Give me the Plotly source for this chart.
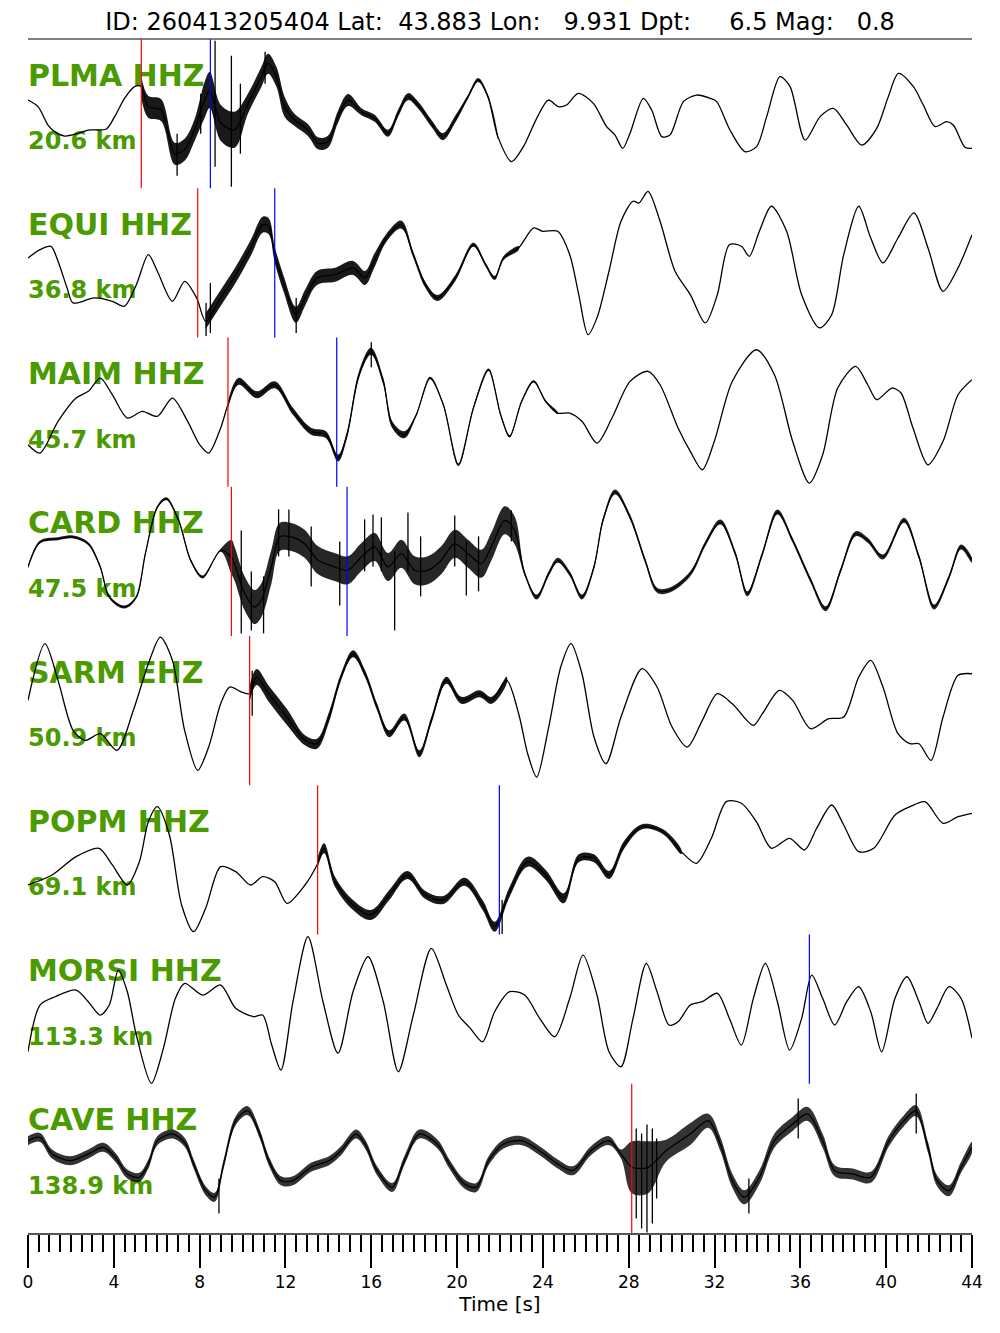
import numpy as np
import plotly.graph_objects as go
from plotly.subplots import make_subplots

# ---------------- data ----------------
TITLE = "ID: 260413205404 Lat:  43.883 Lon:   9.931 Dpt:     6.5 Mag:   0.8"
stations = ["PLMA HHZ", "EQUI HHZ", "MAIM HHZ", "CARD HHZ", "SARM EHZ", "POPM HHZ", "MORSI HHZ", "CAVE HHZ"]
distances = ["20.6 km", "36.8 km", "45.7 km", "47.5 km", "50.9 km", "69.1 km", "113.3 km", "138.9 km"]
p_picks = [5.28, 7.91, 9.32, 9.48, 10.33, 13.50, None, 28.14]
s_picks = [8.50, 11.50, 14.39, 14.87, None, 21.97, 36.42, None]
tick_vals = [0, 4, 8, 12, 16, 20, 24, 28, 32, 36, 40, 44]

# waveform key points: (time [s], amplitude)
PLMA = [(0, 13.6), (0.47, 7), (0.93, -11.4), (1.24, -18), (1.71, -22.4), (2.33, -19.7), (2.8, -16.4), (3.65, -15.4),
        (4.04, -3), (4.5, 15.3), (4.97, 27), (5.28, 27), (5.6, 7), (6.2, 3.6), (6.84, -40), (7.3, -36), (7.77, -16),
        (8.23, 13.6), (8.47, 23.6), (9.0, -9.7), (9.63, -16), (10.25, 10), (10.88, 37), (11.19, 50), (11.58, 37),
        (11.96, 7), (12.43, -6.4), (13.05, -16.4), (13.52, -29.7), (13.98, -28), (14.45, -3), (14.92, 13.6), (15.54, 2),
        (16.16, -4.7), (16.78, -19.7), (17.25, 0.3), (17.71, 17), (18.18, 8.6), (18.8, -9.7), (19.34, -23), (19.89, -6.4),
        (20.51, 17), (20.98, 33.6), (21.44, 17), (21.9, -23), (22.54, -48), (23.09, -33), (23.71, -4.7), (24.25, 13.6),
        (24.72, 7), (25.1, 8.6), (25.65, 20.3), (26.35, 10.3), (26.97, -13), (27.36, -21.4), (27.72, -34.7), (28.06, -19.7),
        (28.68, 15.3), (29.07, 3.6), (29.54, -23), (29.92, -21.4), (30.55, 12), (31.17, 18.6), (31.79, 15.3), (32.1, 12),
        (32.72, -16.4), (33.42, -38), (33.96, -33), (34.43, -3), (35.05, 37), (35.52, 27), (36.22, -26.4), (36.92, -3),
        (37.54, 5.3), (38.16, -11.4), (38.86, -31.4), (39.56, -14.7), (40.1, 17), (40.57, 40.3), (41.27, 27), (41.73, 8.6),
        (42.28, -13), (42.82, -8), (43.13, -11.4), (43.67, -33.7), (44.0, -34.7)]
EQUI = [(0, 4.9), (0.56, 13.2), (1.07, 16.6), (1.4, 1.6), (1.82, -25), (2.1, -40), (3.09, -35), (3.93, -38.4),
        (4.49, -43.4), (5.05, -21.8), (5.61, 8.2), (6.03, -8.4), (6.73, -38.4), (7.3, -18.4), (7.86, -35), (8.28, -58.4),
        (8.98, -35), (9.68, -11.8), (10.38, 14.9), (10.94, 38.2), (11.22, 36.6), (11.5, 8.2), (11.93, -21.8), (12.49, -51.8),
        (12.91, -35), (13.47, -15), (14.31, -11.8), (15.15, -5), (15.71, -15), (16.13, 1.6), (16.7, 24.9), (17.4, 38.2),
        (17.96, 8.2), (18.52, -21.8), (19.08, -35), (19.92, -15), (20.76, 18.2), (21.33, -1.8), (21.75, -15), (22.17, 4.9),
        (22.87, 14.9), (23.57, 34.9), (23.99, 31.6), (24.69, 31.6), (25.25, 8.2), (25.67, -31.8), (26.1, -71.8),
        (26.52, -55), (27.08, -8.4), (27.64, 41.6), (28.2, 61.6), (28.48, 59.9), (28.9, 71.6), (29.46, 41.6), (30.16, -8.4),
        (30.87, -31.8), (31.57, -60), (32.13, -31.8), (32.69, 18.2), (33.25, 16.6), (33.62, 6.6), (34.09, 31.6),
        (34.65, 56.6), (35.36, 31.6), (36.06, -31.8), (36.9, -65), (37.46, -51.8), (38.02, 8.2), (38.72, 56.6),
        (39.28, 24.9), (39.85, 0), (40.55, 24.9), (41.3, 49.9), (41.95, 14.9), (42.65, -28.4), (43.35, -5), (44.0, 28.2)]
MAIM = [(0, -32.6), (0.56, -40.9), (1.4, -9.2), (2.24, 14.1), (2.81, 20.8), (3.37, 34.1), (3.93, 17.4), (4.63, -5.9),
        (5.33, 0.8), (6.03, -4.2), (6.73, 14.1), (7.44, -9.2), (8.0, -32.6), (8.42, -40.9), (8.98, -15.9), (9.32, 7.4),
        (9.82, 30.8), (10.66, 17.4), (11.5, 27.4), (12.35, 0.8), (13.19, -19.2), (13.89, -22.6), (14.45, -45.9),
        (14.87, -22.6), (15.43, 37.4), (15.99, 60.8), (16.56, 30.8), (16.98, -12.6), (17.54, -22.6), (18.1, -2.6),
        (18.74, 34.1), (19.36, 7.4), (20.06, -52.6), (20.76, 4.1), (21.47, 42.4), (22.03, -2.6), (22.45, -24.2),
        (23.01, 10.8), (23.57, 30.8), (24.13, 10.8), (24.69, -0.9), (25.25, -0.9), (25.82, -9.2), (26.52, -30.9),
        (27.22, -5.9), (28.06, 30.8), (28.9, 40.8), (29.46, 27.4), (30.3, -15.9), (30.87, -39.2), (31.43, -57.6),
        (31.99, -29.2), (32.83, 30.8), (33.95, 62.4), (34.79, 37.4), (35.64, -29.2), (36.42, -70.9), (37.04, -42.6),
        (37.74, 24.1), (38.58, 45.8), (39.14, 27.4), (39.56, 12.4), (40.27, 24.1), (40.69, 19.1), (41.25, -15.9),
        (41.95, -52.6), (42.65, -29.2), (43.35, 17.4), (44.0, 32.4)]
CARD = [(0, -5.6), (0.56, 19.4), (1.4, 22.7), (2.1, 24.4), (2.81, 17.7), (3.37, -5.6), (3.79, -35.6), (4.49, -45.6),
        (5.05, -35.6), (5.47, 7.7), (6.03, 54.4), (6.45, 62.7), (7.02, 41.1), (7.58, 1.1), (8.14, -15.6), (8.98, 11.1),
        (9.48, 4.4), (9.63, -2.3), (10.1, -32), (10.56, -45.6), (10.87, -39), (11.34, -5.6), (11.73, 24.4), (12.27, 24.4),
        (12.89, 17.7), (13.52, 1.1), (14.29, -5.6), (14.91, -8.9), (15.54, 4.4), (16.16, 14.4), (16.78, -5.6),
        (17.4, 7.7), (18.02, -8.9), (18.64, -8.9), (19.26, 1.1), (19.89, 17.7), (20.51, 7.7), (21.13, -2.3),
        (21.59, 14.4), (22.22, 41.1), (22.68, 31.1), (23.15, -12), (23.71, -35.6), (24.27, -12.3), (24.69, 1.1),
        (25.25, -12.3), (25.82, -35.6), (26.38, -5.6), (26.8, 41.1), (27.36, 69.4), (28.06, 44.4), (28.76, 1.1),
        (29.32, -28.9), (29.88, -28.9), (30.87, -12.3), (31.57, 17.7), (32.27, 39.4), (32.97, 7.7), (33.53, -32.3),
        (34.23, 7.7), (34.93, 49.4), (35.64, 21.1), (36.48, -18.9), (37.18, -47.3), (37.88, -8.9), (38.58, 27.7),
        (39.14, 21.1), (39.85, 4.4), (40.83, 41.1), (41.53, 4.4), (42.23, -45.6), (42.93, -15.6), (43.49, 14.4), (44.0, 1.1)]
SARM = [(0, 10.3), (0.79, 66.9), (1.4, 30.3), (2.1, -19.7), (2.67, -29.7), (3.37, -23.1), (4.15, -39.7), (4.91, 0.3),
        (5.61, 46.9), (6.17, 73.6), (6.73, 50.3), (7.3, -19.7), (7.91, -59.7), (8.42, -36.4), (8.98, 6.9), (9.4, 23.6),
        (9.96, 18.6), (10.33, 16.9), (10.66, 33.6), (11.22, 16.9), (12.07, -6.4), (12.91, -29.7), (13.47, -33.1),
        (14.03, -6.4), (14.59, 33.6), (15.15, 56.9), (15.71, 36.9), (16.27, 3.6), (16.84, -23.1), (17.54, -6.4),
        (18.24, -43.1), (18.8, -9.7), (19.5, 30.3), (20.2, 10.3), (21.05, 16.9), (21.61, 10.3), (22.31, 30.3),
        (22.87, -3.1), (23.29, -43.1), (23.71, -66.4), (24.27, -16.4), (24.83, 43.6), (25.31, 66.9), (25.82, 36.9),
        (26.38, -26.4), (26.94, -53.1), (27.64, -6.4), (28.62, 41.9), (29.32, 23.6), (30.02, -16.4), (30.73, -36.4),
        (31.43, -9.7), (32.13, 16.9), (32.83, 6.9), (33.81, -14.7), (34.23, -3.1), (35.02, 20.3), (35.64, 10.3),
        (36.48, -18.1), (37.32, -8.1), (38.02, -6.4), (38.72, 33.6), (39.28, 50.3), (39.85, 23.6), (40.55, -23.1),
        (41.11, -33.1), (41.53, -33.1), (42.09, -49.7), (42.65, -6.4), (43.35, 35.3), (44.0, 36.9)]
POPM = [(0, -25.1), (1.12, -15.1), (2.24, 3.2), (3.31, 11.6), (3.93, -5.1), (4.63, -25.1), (5.19, -1.8), (5.61, 38.2),
        (6.03, 53.2), (6.59, 24.9), (7.16, -45.1), (7.72, -71.8), (8.28, -48.4), (8.98, -6.8), (9.68, -11.8),
        (10.38, -25.1), (10.94, -16.8), (11.5, -21.8), (12.07, -43.4), (12.91, -25.1), (13.47, -5.1), (13.8, 11.6),
        (14.31, -21.8), (15.15, -45.1), (15.99, -55.1), (16.84, -35.1), (17.68, -15.1), (18.52, -35.1), (19.36, -40.1),
        (20.34, -21.8), (21.19, -45.1), (21.75, -66.8), (22.45, -31.8), (23.29, -1.8), (24.13, -15.1), (24.97, -38.4),
        (25.67, 1.6), (26.38, 1.6), (27.08, -15.1), (27.78, 14.9), (28.62, 33.2), (29.6, 28.2), (30.45, 8.2),
        (31.15, -3.4), (31.85, 21.6), (32.55, 58.2), (33.25, 56.6), (33.95, 38.2), (34.65, 11.6), (35.5, 21.6),
        (36.2, 9.9), (36.76, 31.6), (37.46, 54.9), (38.02, 34.9), (38.72, 8.2), (39.42, 11.6), (40.41, 44.9),
        (41.11, 53.2), (41.81, 58.2), (42.65, 36.6), (43.35, 43.2), (44.0, 46.6)]
MORSI = [(0, -42.6), (0.56, 4.1), (1.26, 12.4), (2.24, 19.1), (2.81, 7.4), (3.37, -5.9), (3.79, 4.1), (4.21, 39.1),
         (4.63, 17.4), (5.05, -25.9), (5.75, -74.2), (6.31, -39.2), (6.87, 10.8), (7.3, 25.8), (8.14, 14.1), (8.98, 24.1),
         (9.68, 0.8), (10.52, -7.6), (10.94, -5.9), (11.36, -35.9), (11.79, -60.9), (12.35, 7.4), (13.05, 72.4),
         (13.75, 7.4), (14.45, -44.2), (15.15, 17.4), (15.85, 52.4), (16.56, 7.4), (17.26, -62.6), (17.96, -5.9),
         (18.8, 60.8), (19.5, 24.1), (20.06, -5.9), (20.62, -19.2), (21.19, -32.6), (21.75, -2.6), (22.45, 17.4),
         (23.15, 14.1), (23.85, -9.2), (24.55, -27.6), (25.25, 10.8), (25.87, 54.1), (26.52, 14.1), (27.08, -42.6),
         (27.64, -57.6), (28.2, -9.2), (28.82, 45.8), (29.32, 17.4), (29.88, -15.9), (30.3, -12.6), (30.87, 4.1),
         (31.43, 7.4), (32.13, 15.8), (32.69, -9.2), (33.25, -35.9), (33.81, 10.8), (34.37, 45.8), (34.93, 7.4),
         (35.5, -40.9), (36.06, -9.2), (36.53, 34.1), (37.04, 10.8), (37.6, -15.9), (38.16, 7.4), (38.72, 22.4),
         (39.28, -2.6), (39.79, -42.6), (40.41, 10.8), (40.97, 32.4), (41.53, 7.4), (41.95, -14.2), (42.37, 0.8),
         (42.93, 22.4), (43.49, 10.8), (44.0, -29.2)]
CAVE = [(0, 17.7), (0.56, 21), (1.12, 4.4), (1.96, -2.3), (2.81, 4.4), (3.51, 11.1), (4.07, 1.1), (4.63, -15.6),
        (5.19, -18.9), (5.61, -5.6), (6.03, 17.7), (6.73, 24.4), (7.3, 16.1), (7.72, -5.6), (8.28, -32.3), (8.7, -38.9),
        (9.12, -5.6), (9.68, 37.7), (10.24, 47.7), (10.8, 24.4), (11.22, -2.3), (11.79, -22.3), (12.35, -22.3),
        (13.19, -8.9), (14.03, -2.3), (14.59, 7.7), (15.29, 24.4), (15.71, 14.4), (16.27, -12.3), (16.98, -29),
        (17.54, -2.3), (18.24, 24.4), (19.08, 14.4), (19.64, -5.6), (20.34, -25.6), (20.9, -29), (21.47, -2.3),
        (22.17, 14.4), (23.01, 17.7), (23.85, 7.7), (24.69, -5.6), (25.4, -12.3), (26.24, 7.7), (27.08, 17.7),
        (27.64, 4.4), (28.15, -8.9), (28.9, -8.9), (29.74, 7.7), (30.87, 24.4), (31.71, 37.7), (32.27, 14.4),
        (32.83, -22.3), (33.39, -38.9), (34.09, -18.9), (34.79, 17.7), (35.64, 34.4), (36.34, 44.4), (37.04, 17.7),
        (37.6, -12.3), (38.44, -15.6), (39.28, -18.9), (40.13, 17.7), (40.83, 37.7), (41.39, 47.7), (41.95, 11.1),
        (42.37, -22.3), (42.93, -32.3), (43.49, -8.9), (44.0, 11.1)]
waveforms = [PLMA, EQUI, MAIM, CARD, SARM, POPM, MORSI, CAVE]

# high-frequency noise envelope: (t start, t end, half width)
noise = [
    [(5.28, 8.0, 11), (8.0, 10.0, 18), (10.0, 12.2, 10), (12.2, 15.2, 6), (15.2, 20.5, 3.5), (20.5, 22.0, 2), (38.4, 39.3, 4)],
    [(7.91, 13.0, 8), (13.0, 16.2, 7), (16.2, 17.8, 4), (17.8, 20.0, 3), (20.0, 23.0, 2)],
    [(9.32, 18.0, 3.5), (18.0, 25.0, 1.2)],
    [(0, 9.4, 1.5), (9.48, 11.5, 17), (11.5, 22.8, 14), (22.8, 44.01, 2.5)],
    [(10.33, 12.5, 8), (12.5, 14.2, 5), (14.2, 22.5, 3.5)],
    [(13.47, 17.0, 5), (17.0, 21.0, 4), (21.0, 25.5, 5), (25.5, 28.0, 4), (28.0, 30.5, 2.5)],
    [],
    [(0, 28.1, 4.5), (28.1, 29.5, 26), (29.5, 31.0, 11), (31.0, 37.5, 7), (37.5, 44.01, 5.5)],
]
# isolated spikes: (time, top, bottom)
spikes = [
    [(8.72, 73, -53), (9.48, 58, -73), (6.95, -20, -62), (8.05, 20, -20), (9.9, 30, -40), (11.05, 62, 30)],
    [(8.3, -40, -73), (8.5, -20, -70), (12.5, -35, -70)],
    [(16.0, 70, 45)],
    [(9.94, 31, -72), (10.41, -10, -69), (10.98, -15, -72), (11.68, 52, 5), (12.16, 52, 5), (14.53, 20, -44),
     (15.69, 42, -10), (16.08, 47, -5), (16.47, 44, -10), (17.09, 10, -69), (17.71, 49, -10), (19.89, 46, -5),
     (20.43, 20, -34), (22.53, 51, 20), (13.2, 35, -25), (18.3, 25, -35), (21.0, 25, -30)],
    [(10.45, 40, -5)],
    [(22.1, -40, -74)],
    [],
    [(28.35, 30, -60), (28.6, 25, -70), (28.85, 34, -74), (29.1, 30, -65), (29.3, 20, -40), (33.6, -20, -55),
     (35.9, 60, 20), (41.4, 65, 25), (8.9, -20, -55)],
]

# ---------------- style ----------------
GREEN = "#4a9a00"
FONT = "DejaVu Sans"
HALF = 74.625
band_alpha = [0.9, 0.9, 0.9, 0.85, 0.9, 0.9, 0.9, 0.8]
n = len(stations)

fig = make_subplots(rows=n, cols=1, shared_xaxes=True, vertical_spacing=0)

for i in range(n):
    r = i + 1
    # labels (drawn first so the trace sits on top)
    fig.add_trace(go.Scatter(x=[0], y=[HALF - 39], mode="text", text=["<b>" + stations[i] + "</b>"],
                             textposition="middle right", cliponaxis=False,
                             textfont=dict(family=FONT, size=30, color=GREEN),
                             showlegend=False, hoverinfo="skip"), row=r, col=1)
    fig.add_trace(go.Scatter(x=[0], y=[HALF - 104], mode="text", text=["<b>" + distances[i] + "</b>"],
                             textposition="middle right", cliponaxis=False,
                             textfont=dict(family=FONT, size=24, color=GREEN),
                             showlegend=False, hoverinfo="skip"), row=r, col=1)

    t = np.array([p[0] for p in waveforms[i]], dtype=float)
    a = np.array([p[1] for p in waveforms[i]], dtype=float)
    w = np.zeros_like(t)
    for (t0, t1, hw) in noise[i]:
        m = (t >= t0) & (t <= t1)
        w[m] = np.maximum(w[m], hw)
    # noise band over contiguous runs
    idx = np.where(w > 0)[0]
    if len(idx):
        runs = np.split(idx, np.where(np.diff(idx) > 1)[0] + 1)
        for run in runs:
            tt = t[run]
            up = a[run] + w[run]
            lo = a[run] - w[run]
            fig.add_trace(go.Scatter(x=np.concatenate([tt, tt[::-1]]), y=np.concatenate([up, lo[::-1]]),
                                     mode="lines", fill="toself", line=dict(width=0, shape="spline"),
                                     fillcolor="rgba(0,0,0,%.2f)" % band_alpha[i],
                                     showlegend=False, hoverinfo="skip"), row=r, col=1)
    # spikes
    if spikes[i]:
        sx, sy = [], []
        for (ts, top, bot) in spikes[i]:
            sx += [ts, ts, None]
            sy += [top, bot, None]
        fig.add_trace(go.Scatter(x=sx, y=sy, mode="lines", line=dict(color="black", width=1.3),
                                 showlegend=False, hoverinfo="skip"), row=r, col=1)
    fig.add_trace(go.Scatter(x=t, y=a, mode="lines", line=dict(color="black", width=1.3, shape="spline", smoothing=0.8),
                             showlegend=False, hoverinfo="skip"), row=r, col=1)

    yref = "y domain" if r == 1 else "y%d domain" % r
    xref = "x" if r == 1 else "x%d" % r
    if p_picks[i] is not None:
        fig.add_shape(type="line", xref=xref, yref=yref, x0=p_picks[i], x1=p_picks[i], y0=0, y1=1,
                      line=dict(color="red", width=1.2))
    if s_picks[i] is not None:
        fig.add_shape(type="line", xref=xref, yref=yref, x0=s_picks[i], x1=s_picks[i], y0=0, y1=1,
                      line=dict(color="blue", width=1.2))

    fig.update_yaxes(range=[-HALF, HALF], visible=False, fixedrange=True, row=r, col=1)
    fig.update_xaxes(range=[0, 44], showgrid=False, zeroline=False, showticklabels=False, ticks="", row=r, col=1)

fig.update_xaxes(row=n, col=1, showticklabels=True, ticks="outside", tickvals=tick_vals,
                 ticklen=33, tickwidth=2, tickcolor="black", showline=True, linecolor="#555", linewidth=1.5,
                 tickfont=dict(family=FONT, size=17, color="black"),
                 minor=dict(dtick=0.5, tick0=0, ticks="outside", ticklen=17, tickwidth=2, tickcolor="black"),
                 title=dict(text="Time [s]", font=dict(family=FONT, size=20, color="black"), standoff=4))

fig.add_shape(type="line", xref="paper", yref="paper", x0=0, x1=1, y0=1, y1=1, line=dict(color="#555", width=1.5))

W, H = 1000, 1333
fig.update_layout(
    width=W, height=H,
    margin=dict(l=28, r=28, t=39, b=100),
    paper_bgcolor="white", plot_bgcolor="white",
    title=dict(text=TITLE.replace(" ", "\u00a0"), x=0.5, xanchor="center", y=1 - 22 / H, yanchor="middle",
               font=dict(family=FONT, size=24, color="black")),
    showlegend=False,
)

# remove the page's default body margin so the figure fills the window exactly
fig.write_html("out.html", config={"displayModeBar": False},
               post_script="document.body.style.margin='0';document.body.style.overflow='hidden';")
